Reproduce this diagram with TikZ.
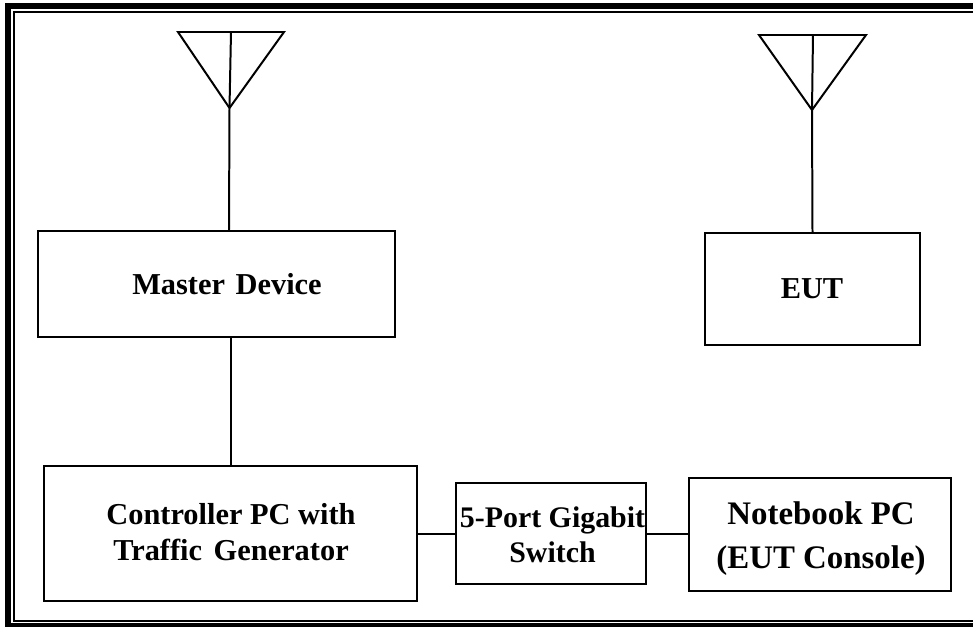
\documentclass[tikz,border=0pt]{standalone}
\usepackage{fontspec}
\setmainfont{Liberation Serif}
\tikzset{
  boxnode/.style={draw=black,line width=2pt,rectangle,inner sep=0pt},
  textnode/.style={align=center,inner sep=0pt,font=\fontsize{30.5}{35.5}\selectfont\bfseries},
  switchtext/.style={align=center,inner sep=0pt,font=\fontsize{30}{35.5}\selectfont\bfseries},
  largetext/.style={align=center,inner sep=0pt,font=\fontsize{33}{44}\selectfont\bfseries},
  wire/.style={draw=black,line width=2pt},
  frameline/.style={draw=black,line width=#1}
}
\begin{document}
\begin{tikzpicture}[x=1bp,y=-1bp]
\useasboundingbox (0,0) rectangle (973,627);
\fill[white] (0,0) rectangle (973,627);
% frame
\draw[frameline=6.5bp,line cap=butt] (980,6) -- (8,6) -- (8,626) -- (980,626);
\draw[frameline=2bp] (980,12) -- (14,12) -- (14,621) -- (980,621);
% boxes
\node[boxnode,minimum width=357bp,minimum height=106bp] (master) at (216.5,284) {};
\node[boxnode,minimum width=215bp,minimum height=112bp] (eut) at (812.5,289) {};
\node[boxnode,minimum width=373bp,minimum height=135bp] (ctrl) at (230.5,533.5) {};
\node[boxnode,minimum width=190bp,minimum height=101bp] (sw) at (551,533.5) {};
\node[boxnode,minimum width=262bp,minimum height=113bp] (nb) at (820,534.3) {};
% labels
\node[textnode] (tmaster) at (227,284) {Master\hspace{3bp} Device};
\node[textnode] (teut) at (812,289) {EUT};
\node[textnode] (tctrl) at (231,532) {Controller PC with\\Traffic\hspace{4bp} Generator};
\node[switchtext] (tsw) at (552.5,534.5) {5-Port Gigabit\\Switch};
\node[largetext] (tnb) at (821,539) {Notebook PC\\(EUT Console)};
% antennas
\coordinate (a1l) at (178,32);
\coordinate (a1r) at (284,32);
\coordinate (a1t) at (231,32);
\coordinate (a1b) at (229.5,108);
\coordinate (a2l) at (759,35);
\coordinate (a2r) at (866,35);
\coordinate (a2t) at (813,35);
\coordinate (a2b) at (812,110);
\draw[wire,line join=miter] (a1l) -- (a1r) -- (a1b) -- cycle;
\draw[wire] (a1t) -- (a1b) -- (master.north -| 229,231);
\draw[wire,line join=miter] (a2l) -- (a2r) -- (a2b) -- cycle;
\draw[wire] (a2t) -- (a2b) -- (eut.north);
% links
\draw[wire] (master.south -| 231,337) -- (ctrl.north -| 231,466);
\draw[wire] (ctrl.east |- 0,534) -- (sw.west |- 0,534);
\draw[wire] (sw.east |- 0,534) -- (nb.west |- 0,534);
\end{tikzpicture}
\end{document}
